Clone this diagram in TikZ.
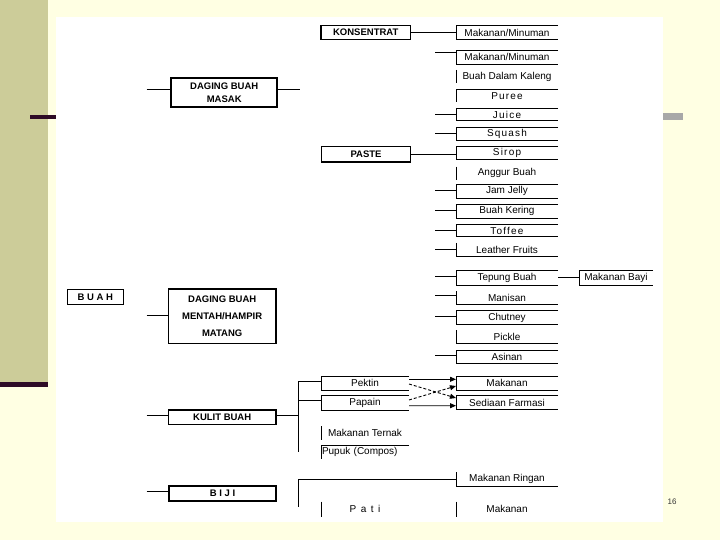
\documentclass[tikz,border=0pt]{standalone}
\usepackage{fontspec}
\setmainfont{Liberation Sans}
\newfontfamily\wideLS[LetterSpace=12]{Liberation Sans}
\newfontfamily\widerLS[LetterSpace=45]{Liberation Sans}
\usetikzlibrary{calc,arrows.meta}
\definecolor{bgyellow}{HTML}{FFFFE3}
\definecolor{khaki}{HTML}{CCCC99}
\definecolor{darkline}{HTML}{2E0B26}
\definecolor{graybar}{HTML}{A8A8A8}
\newcommand{\edgeTLB}[1]{\draw[ln] (#1.north east) -- (#1.north west) -- (#1.south west) -- (#1.south east);}
\newcommand{\edgeL}[1]{\draw[ln] (#1.north west) -- (#1.south west);}
\newcommand{\edgeTL}[1]{\draw[ln] (#1.north east) -- (#1.north west) -- (#1.south west);}
\newcommand{\edgeLB}[1]{\draw[ln] (#1.north west) -- (#1.south west) -- (#1.south east);}
\tikzset{
  txt/.style={inner sep=0pt, outer sep=0pt, font=\fontsize{10}{12}\selectfont},
  hd/.style={inner sep=0pt, outer sep=0pt, font=\fontsize{9.5}{12}\selectfont\bfseries},
  rb/.style={txt, minimum width=102pt, minimum height=#1},
  mb/.style={txt, minimum width=88pt, minimum height=#1},
  ln/.style={line width=0.9pt, draw=black},
  bx/.style={line width=1.3pt, draw=black},
  thk/.style={line width=1.7pt, draw=black},
  arr/.style={ln, -{Triangle[length=6pt,width=5pt]}},
  darr/.style={arr, dash pattern=on 3pt off 2pt},
}
\begin{document}
\begin{tikzpicture}[x=1pt,y=-1pt]
% background
\fill[bgyellow] (0,0) rectangle (720,540);
\fill[khaki] (0,0) rectangle (47.7,381.7);
\fill[darkline] (0,381.7) rectangle (47.7,386.7);
\fill[white] (56,17) rectangle (663,522);
\fill[darkline] (30,115) rectangle (56,119);
\fill[graybar] (663,113.5) rectangle (683,120.5);
\useasboundingbox (0,0) rectangle (720,540);

% left column boxes
\node[hd, bx, draw, minimum width=56pt, minimum height=15pt] (buah) at (95.3,296.8) {B U A H};
\node[hd, thk, draw, minimum width=106pt, minimum height=28.4pt, align=center, font=\fontsize{9.5}{13.3}\selectfont\bfseries] (masak) at (224.2,92.5) {DAGING BUAH\\MASAK};
\node[hd, thk, draw, minimum width=107.7pt, minimum height=54.3pt, align=center, font=\fontsize{9.5}{16.6}\selectfont\bfseries] (mentah) at (222.2,316.2) {DAGING BUAH\\MENTAH/HAMPIR\\MATANG};
\node[hd, thk, draw, minimum width=107.7pt, minimum height=14.3pt] (kulit) at (222.2,417.2) {KULIT BUAH};
\node[hd, thk, draw, minimum width=107pt, minimum height=14.7pt] (biji) at (222.5,493.3) {B I J I};

% middle column
\node[hd, bx, draw, minimum width=89.5pt, minimum height=14pt] (konsentrat) at (365.75,32.5) {KONSENTRAT};
\node[hd, bx, draw, minimum width=89pt, minimum height=15.3pt] (paste) at (366,154.3) {PASTE};
\node[mb=14pt] (pektin) at (365,383) {Pektin};
\node[mb=14.5pt] (papain) at (365,402.75) {Papain};
\node[mb=13.5pt] (ternak) at (365,432.75) {Makanan Ternak};
\node[mb=13.5pt, text width=86pt, align=left] (pupuk) at (365,451.75) {Pupuk (Compos)};
\node[mb=15pt] (pati) at (365,509.2) {\widerLS Pati};

% right column
\node[rb=14pt] (r1) at (507,32.5) {Makanan/Minuman};
\node[rb=13.5pt] (r2) at (507,57.25) {Makanan/Minuman};
\node[rb=13.5pt] (r3) at (507,76.75) {Buah Dalam Kaleng};
\node[rb=13pt] (r4) at (507,95.8) {\wideLS Puree};
\node[rb=12.4pt] (r5) at (507,114.5) {\wideLS Juice};
\node[rb=12.7pt] (r6) at (507,133.7) {\wideLS Squash};
\node[rb=13.3pt] (r7) at (507,152.7) {\wideLS Sirop};
\node[rb=13.3pt] (r8) at (507,173.3) {Anggur Buah};
\node[rb=14.3pt] (r9) at (507,191.2) {Jam Jelly};
\node[rb=14pt] (r10) at (507,211.3) {Buah Kering};
\node[rb=12.4pt] (r11) at (507,230.5) {\wideLS Toffee};
\node[rb=13.7pt] (r12) at (507,249.8) {Leather Fruits};
\node[rb=14.3pt] (r13) at (507,277.8) {Tepung Buah};
\node[rb=13.3pt] (r14) at (507,297.7) {Manisan};
\node[rb=13.6pt] (r15) at (507,317.5) {Chutney};
\node[rb=13.3pt] (r16) at (507,336.7) {Pickle};
\node[rb=13.3pt] (r17) at (507,356.7) {Asinan};
\node[rb=14pt] (r18) at (507,383) {Makanan};
\node[rb=14pt] (r19) at (507,402.5) {Sediaan Farmasi};
\node[rb=14pt] (r20) at (507,479) {Makanan Ringan};
\node[rb=15pt] (r21) at (507,509.2) {Makanan};
\node[txt, minimum width=74pt, minimum height=14.3pt] (bayi) at (616,277.8) {Makanan Bayi};

% partial box edges
\edgeTLB{r1} \edgeTLB{r2} \edgeL{r3} \edgeTL{r4} \edgeTLB{r5} \edgeTLB{r6}
\edgeTLB{r7} \edgeL{r8} \edgeTLB{r9} \edgeTLB{r10} \edgeTLB{r11} \edgeLB{r12}
\edgeTLB{r13} \edgeLB{r14} \edgeTLB{r15} \edgeLB{r16} \edgeTLB{r17}
\edgeTLB{r18} \edgeTLB{r19} \edgeLB{r20} \edgeL{r21} \edgeTLB{bayi}
\edgeTLB{pektin} \edgeTLB{papain} \edgeL{ternak} \edgeTL{pupuk} \edgeL{pati}

% connectors with free ends
\coordinate (f2) at (435,52);
\coordinate (f5) at (435,114.3);
\coordinate (f6) at (435,133.3);
\coordinate (f9) at (435,190);
\coordinate (f10) at (435,210);
\coordinate (f11) at (435,230);
\coordinate (f12) at (435,249);
\coordinate (f13) at (435,276.7);
\coordinate (f14) at (435,295);
\coordinate (f15) at (435,316);
\coordinate (f17) at (435,355);
\draw[ln] (f2) -- (f2 -| r2.west);
\draw[ln] (f5) -- (f5 -| r5.west);
\draw[ln] (f6) -- (f6 -| r6.west);
\draw[ln] (f9) -- (f9 -| r9.west);
\draw[ln] (f10) -- (f10 -| r10.west);
\draw[ln] (f11) -- (f11 -| r11.west);
\draw[ln] (f12) -- (f12 -| r12.west);
\draw[ln] (f13) -- (f13 -| r13.west);
\draw[ln] (f14) -- (f14 -| r14.west);
\draw[ln] (f15) -- (f15 -| r15.west);
\draw[ln] (f17) -- (f17 -| r17.west);

\draw[ln] (konsentrat.east) -- (konsentrat.east -| r1.west);
\draw[ln] (paste.east) -- (paste.east -| r7.west);
\draw[ln] (r13.east) -- (bayi.west);

\coordinate (m0) at (146.7,89.3);
\coordinate (m1) at (300,89.3);
\draw[ln] (m0) -- (m0 -| masak.west);
\draw[ln] (m1 -| masak.east) -- (m1);
\coordinate (mt0) at (146.7,315);
\draw[ln] (mt0) -- (mt0 -| mentah.west);
\coordinate (k0) at (146.7,415.7);
\draw[ln] (k0) -- (k0 -| kulit.west);
\coordinate (bj0) at (146.7,491.7);
\draw[ln] (bj0) -- (bj0 -| biji.west);

% kulit trunk
\coordinate (t1) at (298.3,381.7);
\coordinate (t2) at (298.3,451.7);
\coordinate (t3) at (298.3,400.7);
\coordinate (t4) at (298.3,415.7);
\draw[ln] (t1 -| pektin.west) -- (t1) -- (t2);
\draw[ln] (t3) -- (t3 -| papain.west);
\draw[ln] (t4 -| kulit.east) -- (t4);

% biji trunk
\coordinate (b1) at (298.3,479.3);
\coordinate (b2) at (298.3,506.7);
\draw[ln] (b2) -- (b1) -- (b1 -| r20.west);

% arrows
\draw[arr] ($(pektin.east)+(0,-3.7)$) -- ($(r18.west)+(0,-3.7)$);
\draw[darr] ($(pektin.east)+(0,1)$) -- ($(r19.west)+(0,-4.5)$);
\draw[darr] ($(papain.east)+(0,-2.75)$) -- ($(r18.west)+(0,3)$);
\draw[arr] ($(papain.east)+(0,3)$) -- ($(r19.west)+(0,3.2)$);

% page number
\node[inner sep=0pt, font=\fontsize{8}{9}\selectfont, text=black!80] (pg) at (672,501.5) {16};
\end{tikzpicture}
\end{document}
